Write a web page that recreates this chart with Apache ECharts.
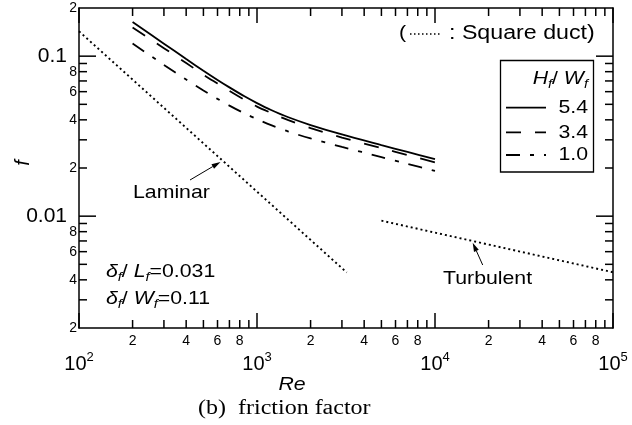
<!DOCTYPE html>
<html><head><meta charset="utf-8">
<script src="https://cdn.jsdelivr.net/npm/echarts@6.0.0/dist/echarts.min.js"></script>
<style>html,body{margin:0;padding:0;background:#fff}#c{width:632px;height:425px}</style>
</head><body><div id="c"></div>
<script>
// ---- data ----
const reValues = [200, 300, 400, 500, 600, 700, 850, 1000, 1200, 1500, 2000, 3000, 5000, 7000, 10000];
const f54 = [0.1635, 0.1197, 0.0960, 0.0811, 0.0710, 0.0638, 0.0561, 0.0509, 0.0461, 0.0415, 0.0371, 0.0324, 0.0278, 0.0252, 0.0227];
const f34 = [0.1511, 0.1122, 0.0906, 0.0766, 0.0675, 0.0607, 0.0534, 0.0484, 0.0442, 0.0398, 0.0355, 0.0310, 0.0266, 0.0241, 0.0217];
const f10 = [0.1200, 0.0882, 0.0714, 0.0611, 0.0541, 0.0491, 0.0439, 0.0404, 0.0371, 0.0338, 0.0306, 0.0271, 0.0234, 0.0212, 0.0192];
const laminarRe = [100, 3190];
const laminarF = [0.143, 0.00445];
const turbRe = [5000, 100000];
const turbF = [0.00937, 0.00446];
const seriesNames = ['5.4', '3.4', '1.0'];

// ---- axes / tick labels ----
const X_MIN = 100, X_MAX = 100000, Y_MIN = 0.002, Y_MAX = 0.2;
const xMajorTicks = [100, 1000, 10000, 100000];
const xMajorExp = ['2', '3', '4', '5'];
const xMinorTicks = [200,300,400,500,600,700,800,900,2000,3000,4000,5000,6000,7000,8000,9000,20000,30000,40000,50000,60000,70000,80000,90000];
const xMinorLabels = [[200,'2'],[400,'4'],[600,'6'],[800,'8'],[2000,'2'],[4000,'4'],[6000,'6'],[8000,'8'],[20000,'2'],[40000,'4'],[60000,'6'],[80000,'8']];
const yMajorTicks = [0.01, 0.1];
const yMajorLabels = ['0.01', '0.1'];
const yMinorTicks = [0.003,0.004,0.005,0.006,0.007,0.008,0.009,0.02,0.03,0.04,0.05,0.06,0.07,0.08,0.09];
const yMinorLabels = [[0.002,'2'],[0.004,'4'],[0.006,'6'],[0.008,'8'],[0.02,'2'],[0.04,'4'],[0.06,'6'],[0.08,'8'],[0.2,'2']];

const SANS = "'Liberation Sans', Arial, Helvetica, sans-serif";
const SERIF = "'Liberation Serif', 'Times New Roman', serif";
const SX = 1.12;
const LINE_TYPES = ['solid', [15, 14], [14, 10, 4, 10]];
const LINE_DASH = [null, [15, 14], [14, 10, 4, 10]];

function findIdx(arr, v) {
  return arr.findIndex(t => Math.abs(t - v) / t < 1e-6);
}
function pairs(xs, ys) { return xs.map((x, i) => [x, ys[i]]); }

const chart = echarts.init(document.getElementById('c'), null, {renderer: 'canvas'});

const axisCommon = {
  type: 'log', logBase: 10,
  axisLine: {show: true, onZero: false, lineStyle: {color: '#000', width: 1.5}},
  axisTick: {show: false},
  splitLine: {show: false},
  minorTick: {show: false},
  minorSplitLine: {show: false}
};

function arrow(x1, y1, x2, y2) {
  const dx = x2 - x1, dy = y2 - y1, L = Math.hypot(dx, dy);
  const ux = dx / L, uy = dy / L, nx = -uy, ny = ux;
  const hl = 9, hw = 2.6;
  const bx = x2 - hl * ux, by = y2 - hl * uy;
  return [
    {type: 'line', shape: {x1: x1, y1: y1, x2: bx, y2: by}, style: {stroke: '#000', lineWidth: 1}},
    {type: 'polygon', shape: {points: [[x2, y2], [bx + hw * nx, by + hw * ny], [bx - hw * nx, by - hw * ny]]}, style: {fill: '#000'}}
  ];
}

const richSub = {
  i: {fontFamily: SANS, fontStyle: 'italic', fontSize: 19, lineHeight: 24, verticalAlign: 'middle', fill: '#000'},
  n: {fontFamily: SANS, fontSize: 19, lineHeight: 24, verticalAlign: 'middle', fill: '#000'},
  s: {fontFamily: SANS, fontStyle: 'italic', fontSize: 13, lineHeight: 13, verticalAlign: 'bottom', fill: '#000'}
};

function txt(x, y, text, opts) {
  opts = opts || {};
  return {
    type: 'text', x: x, y: y, scaleX: opts.scaleX || SX, rotation: opts.rotation || 0,
    style: Object.assign({
      text: text, fill: '#000', font: (opts.italic ? 'italic ' : '') + (opts.size || 19) + 'px ' + (opts.family || SANS),
      align: opts.align || 'left', verticalAlign: 'middle'
    }, opts.rich ? {rich: opts.rich} : {})
  };
}

// legend (drawn as graphics so that it matches the boxed legend of the reference)
const legendRowsY = [107.7, 132.3, 155];
const legendGraphics = [];
seriesNames.forEach((name, i) => {
  const st = {stroke: '#000', lineWidth: 1.8};
  if (LINE_DASH[i]) st.lineDash = LINE_DASH[i];
  legendGraphics.push({type: 'line', shape: {x1: 506, y1: legendRowsY[i], x2: 546, y2: legendRowsY[i]}, style: st});
  legendGraphics.push(txt(588, legendRowsY[i], name, {align: 'right'}));
});

const graphics = [].concat(
  [
    {type: 'rect', shape: {x: 500.5, y: 60.5, width: 93, height: 111.5}, style: {fill: '#fff', stroke: '#000', lineWidth: 1.3}, z: -1},
    txt(588, 79, '{i|H}{s|f}{n|/ }{i|W}{s|f}', {rich: richSub, align: 'right'}),
    txt(399, 33, '('),
    {type: 'line', shape: {x1: 410, y1: 34, x2: 441, y2: 34}, style: {stroke: '#000', lineWidth: 1.4, lineDash: [1.5, 2.5]}},
    txt(449, 33, ': Square duct)', {size: 20, scaleX: 1.16}),
    txt(133, 193, 'Laminar'),
    txt(443, 279, 'Turbulent'),
    txt(106, 272, '{i|δ}{s|f}{n|/ }{i|L}{s|f}{n|=0.031}', {rich: richSub}),
    txt(106, 299, '{i|δ}{s|f}{n|/ }{i|W}{s|f}{n|=0.11}', {rich: richSub}),
    txt(292, 385, 'Re', {italic: true, align: 'center', size: 19}),
    txt(23.5, 163, 'f', {italic: true, align: 'center', size: 20, scaleX: 1, rotation: Math.PI / 2}),
    txt(198, 409, '(b)  friction factor', {family: SERIF, size: 20, scaleX: 1.2})
  ],
  legendGraphics,
  arrow(190, 180, 220.5, 162),
  arrow(482.7, 265, 472.7, 242.7)
);

function tickSeries(name, values, isX, len) {
  return {
    name: name, type: 'custom', coordinateSystem: 'cartesian2d', clip: false, silent: true, z: 5,
    data: values.map(v => isX ? [v, Y_MIN] : [X_MIN, v]),
    renderItem: function (params, api) {
      const st = {stroke: '#000', lineWidth: 1.5};
      if (isX) {
        const v = api.value(0);
        const b = api.coord([v, Y_MIN]), t = api.coord([v, Y_MAX]);
        return {type: 'group', children: [
          {type: 'line', shape: {x1: b[0], y1: b[1], x2: b[0], y2: b[1] - len}, style: st},
          {type: 'line', shape: {x1: t[0], y1: t[1], x2: t[0], y2: t[1] + len}, style: st}
        ]};
      }
      const v = api.value(1);
      const a = api.coord([X_MIN, v]), r = api.coord([X_MAX, v]);
      return {type: 'group', children: [
        {type: 'line', shape: {x1: a[0], y1: a[1], x2: a[0] + len, y2: a[1]}, style: st},
        {type: 'line', shape: {x1: r[0], y1: r[1], x2: r[0] - len, y2: r[1]}, style: st}
      ]};
    }
  };
}

const option = {
  animation: false,
  backgroundColor: '#fff',
  grid: {left: 79, right: 19, top: 8, bottom: 97, containLabel: false, outerBoundsMode: 'none'},
  xAxis: [
    Object.assign({}, axisCommon, {
      min: X_MIN, max: X_MAX, position: 'bottom',
      axisLabel: {
        margin: 23, color: '#000',
        formatter: function (v) {
          const i = findIdx(xMajorTicks, v);
          return i < 0 ? '' : '{b|10}{s|' + xMajorExp[i] + '}';
        },
        rich: {
          b: {fontFamily: SANS, fontSize: 20, lineHeight: 26, verticalAlign: 'middle', color: '#000'},
          s: {fontFamily: SANS, fontSize: 13, lineHeight: 13, verticalAlign: 'top', color: '#000'}
        }
      }
    }),
    Object.assign({}, axisCommon, {min: X_MIN, max: X_MAX, position: 'top', axisLabel: {show: false}})
  ],
  yAxis: [
    Object.assign({}, axisCommon, {
      min: Y_MIN, max: Y_MAX, position: 'left',
      axisLabel: {
        margin: 12, color: '#000', fontFamily: SANS, fontSize: 21,
        formatter: function (v) {
          const i = findIdx(yMajorTicks, v);
          return i < 0 ? '' : yMajorLabels[i];
        }
      }
    }),
    Object.assign({}, axisCommon, {min: Y_MIN, max: Y_MAX, position: 'right', axisLabel: {show: false}})
  ],
  series: [
    {name: '5.4', type: 'line', data: pairs(reValues, f54), symbol: 'none', smooth: 0.3,
     lineStyle: {color: '#000', width: 1.8, type: LINE_TYPES[0]}},
    {name: '3.4', type: 'line', data: pairs(reValues, f34), symbol: 'none', smooth: 0.3,
     lineStyle: {color: '#000', width: 1.8, type: LINE_TYPES[1]}},
    {name: '1.0', type: 'line', data: pairs(reValues, f10), symbol: 'none', smooth: 0.3,
     lineStyle: {color: '#000', width: 1.8, type: LINE_TYPES[2]}},
    {name: 'Laminar', type: 'line', data: pairs(laminarRe, laminarF), symbol: 'none',
     lineStyle: {color: '#000', width: 1.9, type: [2, 3]}},
    {name: 'Turbulent', type: 'line', data: pairs(turbRe, turbF), symbol: 'none',
     lineStyle: {color: '#000', width: 1.9, type: [2, 3]}},
    tickSeries('xMajorTicks', xMajorTicks, true, 15),
    tickSeries('xMinorTicks', xMinorTicks, true, 8),
    tickSeries('yMajorTicks', yMajorTicks, false, 17),
    tickSeries('yMinorTicks', yMinorTicks, false, 8),
    {name: 'xMinorLabels', type: 'custom', coordinateSystem: 'cartesian2d', clip: false, silent: true, z: 5,
     data: xMinorLabels.map(p => [p[0], Y_MIN]),
     renderItem: function (params, api) {
       const b = api.coord([api.value(0), Y_MIN]);
       return {type: 'text', x: b[0], y: b[1] + 13, style: {text: xMinorLabels[params.dataIndex][1], fill: '#000',
         font: '14px ' + SANS, align: 'center', verticalAlign: 'middle'}};
     }},
    {name: 'yMinorLabels', type: 'custom', coordinateSystem: 'cartesian2d', clip: false, silent: true, z: 5,
     data: yMinorLabels.map(p => [X_MIN, p[0]]),
     renderItem: function (params, api) {
       const a = api.coord([X_MIN, api.value(1)]);
       return {type: 'text', x: a[0] - 2, y: a[1], style: {text: yMinorLabels[params.dataIndex][1], fill: '#000',
         font: '14px ' + SANS, align: 'right', verticalAlign: 'middle'}};
     }}
  ],
  graphic: graphics
};
chart.setOption(option);
</script>
</body></html>
